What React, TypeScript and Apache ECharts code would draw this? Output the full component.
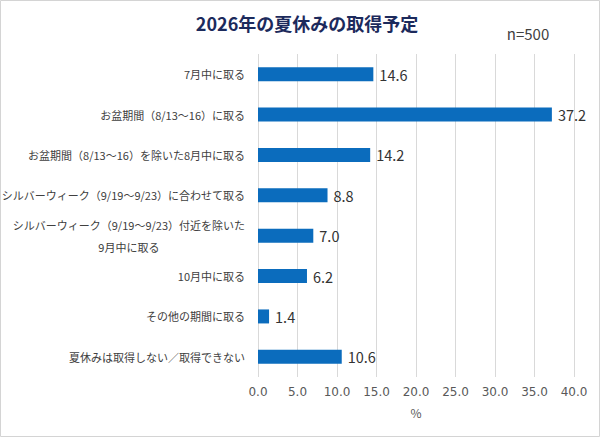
import React, { useEffect, useRef } from "react";
import * as echarts from "echarts";

const categories = [
  "7月中に取る",
  "お盆期間（8/13～16）に取る",
  "お盆期間（8/13～16）を除いた8月中に取る",
  "シルバーウィーク（9/19～9/23）に合わせて取る",
  "シルバーウィーク（9/19～9/23）付近を除いた\n9月中に取る",
  "10月中に取る",
  "その他の期間に取る",
  "夏休みは取得しない／取得できない",
];
const values = [14.6, 37.2, 14.2, 8.8, 7.0, 6.2, 1.4, 10.6];
const titleText = "2026年の夏休みの取得予定";
const sampleText = "n=500";
const axisName = "%";

const FONT = "'Noto Sans CJK JP', 'Noto Sans', sans-serif";

export default function App() {
  const ref = useRef<HTMLDivElement>(null);
  useEffect(() => {
    if (!ref.current) return;
    const chart = echarts.init(ref.current, null, { renderer: "svg" });
    chart.setOption({
      animation: false,
      backgroundColor: "#ffffff",
      textStyle: { fontFamily: FONT },
      title: {
        text: titleText,
        left: 302,
        textAlign: "center",
        top: 9,
        textStyle: { fontSize: 18, fontWeight: "bold", color: "#1c2a5c", fontFamily: FONT },
      },
      graphic: [
        {
          type: "rect",
          shape: { x: 0.5, y: 0.5, width: 599, height: 436 },
          style: { fill: "none", stroke: "#d4d4d4", lineWidth: 1 },
          silent: true,
        },
        {
          type: "text",
          x: 528,
          y: 33,
          style: {
            text: sampleText,
            fontSize: 15,
            fill: "#404040",
            fontFamily: FONT,
            align: "center",
            verticalAlign: "middle",
          },
        },
      ],
      grid: {
        left: 258,
        right: 26,
        top: 54,
        bottom: 60,
        containLabel: false,
        outerBoundsMode: "none",
      },
      xAxis: {
        type: "value",
        min: 0,
        max: 40,
        interval: 5,
        name: axisName,
        nameLocation: "middle",
        nameGap: 29,
        nameTextStyle: { fontSize: 12, color: "#595959", fontFamily: FONT },
        axisLine: { show: false },
        axisTick: { show: false },
        axisLabel: {
          formatter: (v: number) => v.toFixed(1),
          fontSize: 12,
          color: "#595959",
          margin: 9,
          fontFamily: "'DejaVu Sans', sans-serif",
        },
        splitLine: { show: true, lineStyle: { color: "#d9d9d9", width: 1 } },
      },
      yAxis: {
        type: "category",
        data: categories,
        inverse: true,
        axisLine: { show: false },
        axisTick: { show: false },
        axisLabel: {
          fontSize: 11,
          color: "#404040",
          margin: 13,
          lineHeight: 22,
          fontFamily: FONT,
          formatter: (v: string) =>
            v
              .split("\n")
              .map((s) => "{c|" + s + "}")
              .join("\n"),
          rich: {
            c: {
              fontSize: 11,
              color: "#404040",
              align: "center",
              lineHeight: 22,
              fontFamily: FONT,
            },
          },
        },
      },
      series: [
        {
          type: "bar",
          data: values,
          barWidth: 14,
          itemStyle: { color: "#0b6cbd" },
          label: {
            show: true,
            position: "right",
            distance: 6,
            formatter: (p: any) => Number(p.value).toFixed(1),
            fontSize: 14.5,
            color: "#333333",
            fontFamily: FONT,
          },
        },
      ],
    });
    return () => chart.dispose();
  }, []);
  return (
    <div
      ref={ref}
      style={{ position: "absolute", left: 0, top: 0, width: 600, height: 437 }}
    />
  );
}
